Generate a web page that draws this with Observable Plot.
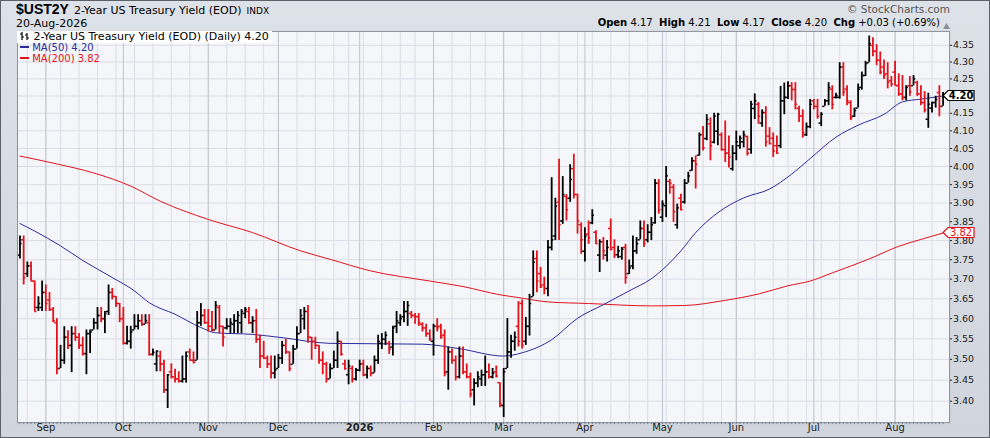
<!DOCTYPE html>
<html><head><meta charset="utf-8">
<script src="https://cdn.jsdelivr.net/npm/d3@7"></script>
<script src="https://cdn.jsdelivr.net/npm/@observablehq/plot@0.6"></script>
<style>
html,body{margin:0;padding:0;background:#fff;}
#wrap{position:relative;width:990px;height:438px;overflow:hidden;box-sizing:border-box;border:1px solid #5c616a;
 background:linear-gradient(#dde1e8,#d0d5dd);font-family:"DejaVu Sans",Verdana,sans-serif;color:#000;}
#wrap svg.plot{position:absolute;left:-1px;top:-1px;}
.ov{position:absolute;white-space:nowrap;line-height:12px;height:12px;}
</style></head><body><div id="wrap"></div>
<script>
// ---- data ----
const firstDay = "2025-08-21", lastDay = "2026-08-20";
const holidays = ["2025-09-01","2025-11-27","2025-12-25","2026-01-01","2026-01-19","2026-02-16","2026-04-03","2026-05-25","2026-06-19","2026-07-03"];
const monthLabels = ["Sep","Oct","Nov","Dec","2026","Feb","Mar","Apr","May","Jun","Jul","Aug"];
const yTicks = [3.40,3.45,3.50,3.55,3.60,3.65,3.70,3.75,3.80,3.85,3.90,3.95,4.00,4.05,4.10,4.15,4.20,4.25,4.30,4.35];

const open = [3.762,3.802,3.714,3.734,3.695,3.628,3.628,3.666,3.647,3.623,3.590,3.478,3.498,3.554,3.534,3.563,3.554,3.534,3.514,3.563,
3.572,3.590,3.608,3.600,3.618,3.666,3.656,3.638,3.600,3.539,3.544,3.572,3.581,3.595,3.586,3.590,3.512,3.489,3.508,3.489,
3.427,3.470,3.458,3.453,3.448,3.453,3.518,3.498,3.498,3.590,3.608,3.590,3.581,3.572,3.628,3.581,3.577,3.581,3.586,3.595,
3.590,3.613,3.618,3.590,3.595,3.549,3.508,3.503,3.489,3.467,3.478,3.503,3.534,3.518,3.488,3.525,3.563,3.600,3.618,3.554,
3.544,3.534,3.498,3.489,3.453,3.478,3.498,3.544,3.489,3.463,3.478,3.453,3.474,3.489,3.463,3.478,3.467,3.498,3.539,3.549,
3.539,3.530,3.581,3.590,3.605,3.618,3.613,3.608,3.605,3.586,3.577,3.563,3.544,3.581,3.581,3.559,3.470,3.518,3.498,3.458,
3.508,3.470,3.458,3.427,3.443,3.453,3.463,3.470,3.458,3.470,3.444,3.390,3.478,3.518,3.544,3.581,3.638,3.544,3.581,3.655,
3.753,3.714,3.685,3.676,3.782,3.812,3.902,3.852,3.918,3.913,3.994,3.923,3.842,3.772,3.817,3.847,3.822,3.762,3.797,3.762,
3.832,3.782,3.763,3.758,3.782,3.714,3.734,3.773,3.802,3.832,3.802,3.822,3.847,3.954,3.862,3.893,3.959,3.943,3.842,3.913,
3.903,3.954,3.989,4.016,4.031,4.089,4.078,4.120,4.068,4.099,4.089,4.047,4.037,3.994,4.037,4.058,4.069,4.084,4.048,4.164,
4.176,4.122,4.152,4.085,4.079,4.058,4.058,4.186,4.196,4.230,4.219,4.164,4.142,4.089,4.112,4.186,4.170,4.122,4.170,4.186,
4.220,4.196,4.196,4.285,4.220,4.181,4.142,4.165,4.225,4.260,4.298,4.350,4.332,4.305,4.285,4.265,4.245,4.270,4.230,4.206,
4.196,4.230,4.230,4.240,4.206,4.181,4.133,4.165,4.181,4.210,4.170];
const high = [3.812,3.812,3.744,3.744,3.695,3.655,3.695,3.685,3.666,3.628,3.600,3.534,3.580,3.570,3.580,3.580,3.563,3.554,3.572,3.572,
3.600,3.628,3.628,3.618,3.685,3.676,3.656,3.638,3.628,3.581,3.581,3.610,3.610,3.610,3.610,3.610,3.525,3.520,3.520,3.498,
3.463,3.489,3.476,3.470,3.508,3.518,3.525,3.518,3.618,3.638,3.623,3.623,3.618,3.643,3.633,3.581,3.600,3.600,3.610,3.618,
3.623,3.628,3.628,3.605,3.623,3.559,3.544,3.508,3.508,3.508,3.512,3.544,3.549,3.518,3.534,3.580,3.623,3.628,3.633,3.554,
3.554,3.534,3.518,3.493,3.489,3.520,3.567,3.544,3.498,3.498,3.484,3.478,3.498,3.498,3.484,3.484,3.508,3.559,3.563,3.567,
3.544,3.581,3.618,3.610,3.643,3.643,3.618,3.613,3.613,3.590,3.586,3.572,3.586,3.600,3.586,3.572,3.530,3.525,3.508,3.530,
3.530,3.489,3.467,3.453,3.470,3.474,3.508,3.489,3.478,3.484,3.444,3.478,3.600,3.559,3.567,3.643,3.647,3.603,3.661,3.773,
3.773,3.730,3.705,3.800,3.969,3.913,4.020,3.972,3.923,4.005,4.034,3.924,3.847,3.834,3.852,3.882,3.826,3.802,3.808,3.800,
3.857,3.802,3.785,3.782,3.790,3.749,3.812,3.808,3.852,3.852,3.842,3.861,3.964,3.964,3.906,4.000,3.964,3.950,3.897,3.924,
3.964,3.984,4.024,4.029,4.094,4.112,4.146,4.137,4.150,4.150,4.094,4.128,4.085,4.058,4.099,4.085,4.099,4.085,4.185,4.206,
4.181,4.160,4.169,4.109,4.094,4.085,4.228,4.238,4.242,4.239,4.239,4.170,4.160,4.122,4.190,4.190,4.190,4.152,4.190,4.239,
4.230,4.208,4.298,4.298,4.230,4.186,4.165,4.235,4.270,4.302,4.378,4.373,4.352,4.330,4.306,4.298,4.257,4.302,4.265,4.260,
4.230,4.257,4.260,4.243,4.230,4.213,4.208,4.182,4.199,4.230,4.210];
const low = [3.752,3.685,3.704,3.695,3.618,3.618,3.618,3.618,3.618,3.590,3.463,3.478,3.488,3.524,3.468,3.544,3.524,3.508,3.463,3.514,
3.572,3.572,3.590,3.563,3.608,3.647,3.628,3.590,3.535,3.535,3.525,3.572,3.572,3.581,3.586,3.508,3.508,3.470,3.470,3.418,
3.383,3.453,3.443,3.443,3.443,3.443,3.498,3.489,3.498,3.581,3.586,3.567,3.567,3.572,3.563,3.530,3.572,3.563,3.563,3.563,
3.563,3.600,3.586,3.563,3.539,3.478,3.500,3.478,3.453,3.453,3.478,3.488,3.512,3.470,3.488,3.525,3.563,3.572,3.539,3.498,
3.524,3.488,3.463,3.443,3.453,3.478,3.478,3.508,3.474,3.439,3.443,3.448,3.470,3.458,3.453,3.458,3.467,3.488,3.524,3.534,
3.512,3.508,3.563,3.581,3.590,3.581,3.600,3.586,3.581,3.567,3.554,3.544,3.508,3.567,3.549,3.458,3.426,3.488,3.448,3.453,
3.463,3.453,3.408,3.389,3.432,3.435,3.435,3.453,3.453,3.455,3.385,3.362,3.478,3.503,3.520,3.530,3.525,3.534,3.557,3.655,
3.665,3.676,3.660,3.655,3.773,3.800,3.800,3.843,3.852,3.902,3.911,3.817,3.764,3.744,3.790,3.842,3.790,3.717,3.749,3.744,
3.773,3.753,3.753,3.749,3.687,3.712,3.724,3.764,3.802,3.782,3.794,3.800,3.843,3.870,3.848,3.861,3.924,3.848,3.830,3.879,
3.897,3.954,3.987,3.938,4.029,4.043,4.072,4.016,4.063,4.058,4.043,4.011,3.996,3.987,4.016,4.048,4.052,4.029,4.034,4.132,
4.119,4.110,4.054,4.060,4.025,4.034,4.050,4.146,4.190,4.186,4.160,4.124,4.079,4.084,4.106,4.160,4.133,4.112,4.170,4.172,
4.160,4.191,4.191,4.199,4.172,4.129,4.138,4.165,4.217,4.257,4.298,4.316,4.289,4.262,4.248,4.221,4.226,4.230,4.199,4.186,
4.186,4.199,4.230,4.199,4.172,4.151,4.107,4.151,4.165,4.140,4.170];
const close = [3.792,3.704,3.734,3.695,3.618,3.638,3.666,3.638,3.623,3.595,3.478,3.498,3.554,3.534,3.563,3.554,3.534,3.514,3.563,3.567,
3.590,3.608,3.600,3.613,3.666,3.656,3.638,3.600,3.539,3.544,3.567,3.581,3.595,3.586,3.595,3.512,3.517,3.520,3.489,3.427,
3.463,3.458,3.453,3.448,3.453,3.508,3.498,3.493,3.590,3.608,3.590,3.581,3.572,3.633,3.581,3.554,3.581,3.590,3.595,3.608,
3.618,3.623,3.590,3.595,3.549,3.508,3.503,3.489,3.467,3.474,3.503,3.534,3.518,3.478,3.525,3.563,3.608,3.618,3.554,3.544,
3.534,3.498,3.489,3.453,3.478,3.498,3.544,3.512,3.478,3.484,3.453,3.474,3.489,3.463,3.478,3.467,3.498,3.544,3.549,3.559,
3.525,3.577,3.595,3.600,3.618,3.633,3.608,3.605,3.590,3.577,3.563,3.549,3.581,3.577,3.554,3.467,3.518,3.498,3.458,3.508,
3.470,3.458,3.417,3.443,3.458,3.463,3.470,3.458,3.467,3.460,3.394,3.470,3.518,3.544,3.554,3.544,3.534,3.581,3.638,3.744,
3.695,3.680,3.676,3.782,3.802,3.892,3.842,3.923,3.882,3.964,3.923,3.852,3.802,3.812,3.807,3.867,3.792,3.797,3.773,3.782,
3.777,3.763,3.773,3.777,3.704,3.729,3.773,3.792,3.832,3.792,3.822,3.842,3.954,3.882,3.898,3.974,3.954,3.877,3.887,3.882,
3.954,3.974,4.016,4.006,4.089,4.052,4.132,4.058,4.142,4.147,4.047,4.037,4.026,4.037,4.069,4.079,4.089,4.037,4.176,4.186,
4.142,4.152,4.069,4.064,4.043,4.037,4.186,4.196,4.230,4.219,4.176,4.142,4.095,4.112,4.176,4.170,4.142,4.147,4.186,4.225,
4.176,4.201,4.285,4.212,4.186,4.137,4.158,4.220,4.260,4.295,4.355,4.332,4.305,4.270,4.260,4.240,4.235,4.232,4.206,4.196,
4.225,4.212,4.250,4.206,4.181,4.160,4.176,4.181,4.190,4.170,4.200];

const ma50Idx = [0,4,11,17,25,31,35,42,49,53,63,71,84,109,119,131,136,144,151,158,165,171,179,183,189,196,203,209,214,221,227,234,239,244,250];
const ma50Val = [3.845,3.825,3.786,3.748,3.704,3.670,3.640,3.611,3.578,3.565,3.561,3.553,3.539,3.537,3.526,3.508,3.516,3.548,3.601,3.635,3.670,3.701,3.773,3.821,3.874,3.914,3.938,3.979,4.022,4.082,4.116,4.147,4.183,4.191,4.200];
const ma200Idx = [0,10,20,30,38,51,63,76,84,95,111,120,130,135,143,154,171,180,191,200,208,214,220,230,238,244,250];
const ma200Val = [4.029,4.007,3.982,3.946,3.905,3.856,3.821,3.773,3.751,3.721,3.695,3.681,3.660,3.653,3.642,3.638,3.632,3.633,3.646,3.662,3.683,3.695,3.716,3.752,3.785,3.803,3.820];

// ---- trading calendar (categories) ----
const dates = [];
for (let t = Date.parse(firstDay+"T00:00:00Z"); t <= Date.parse(lastDay+"T00:00:00Z"); t += 864e5) {
  const d = new Date(t), wd = d.getUTCDay(), s = d.toISOString().slice(0,10);
  if (wd === 0 || wd === 6 || holidays.includes(s)) continue;
  dates.push(d);
}
const n = dates.length;
const bars = dates.map((d, i) => ({i, o: open[i], h: high[i], l: low[i], c: close[i],
  col: (i === 0 || close[i] >= close[i-1]) ? "#000000" : "#e3121b"}));
const monthIdx = [], weekIdx = [];
dates.forEach((d, i) => {
  if (i > 0 && d.getUTCMonth() !== dates[i-1].getUTCMonth()) monthIdx.push(i);
  if (i > 0 && d.getUTCDay() < dates[i-1].getUTCDay()) weekIdx.push(i);
});
const monthTicks = monthIdx.map((i, k) => ({i, label: monthLabels[k], bold: monthLabels[k] === "2026"}));
const ma50 = ma50Idx.map((i, k) => ({i, v: ma50Val[k]}));
const ma200 = ma200Idx.map((i, k) => ({i, v: ma200Val[k]}));
const allIdx = d3.range(n);
const lastClose = close[n-1], lastMa200 = ma200Val[ma200Val.length-1];
// the last close is shown in its own tag, so its plain label is left out
const labelTicks = yTicks.filter(v => Math.abs(v - lastClose) > 1e-9);

const red = "#e3121b", blue = "#2b2b9e";
const chart = Plot.plot({
  width: 990, height: 438,
  marginLeft: 17, marginRight: 39, marginTop: 31, marginBottom: 15,
  x: {type: "linear", domain: [-0.676, 251.76], axis: null, label: null},
  y: {type: "log", domain: [3.350, 4.392], axis: null, label: null},
  style: {background: "transparent", fontFamily: "DejaVu Sans, sans-serif", fontSize: "10px", overflow: "visible"},
  marks: [
    Plot.frame({fill: "#f4f6fa", stroke: null}),
    Plot.ruleY(yTicks, {stroke: "#dadde5", strokeWidth: 1}),
    Plot.ruleX(weekIdx, {stroke: "#dadde5", strokeWidth: 1}),
    Plot.ruleX(monthIdx, {stroke: "#bfc3cb", strokeWidth: 1}),
    Plot.line(ma200, {x: "i", y: "v", stroke: red, strokeWidth: 1, curve: "monotone-x"}),
    Plot.line(ma50, {x: "i", y: "v", stroke: blue, strokeWidth: 1, curve: "monotone-x"}),
    Plot.ruleX(bars, {x: "i", y1: "l", y2: "h", stroke: "col", strokeWidth: 1.8}),
    Plot.ruleY(bars, {y: "o", x1: d => d.i - 0.6, x2: "i", stroke: "col", strokeWidth: 1.5}),
    Plot.ruleY(bars, {y: "c", x1: "i", x2: d => d.i + 0.6, stroke: "col", strokeWidth: 1.5}),
    Plot.frame({stroke: "#8b9099"}),
    Plot.axisY({anchor: "right", ticks: labelTicks, tickFormat: d => d.toFixed(2), tickSize: 2, tickPadding: 1.5,
      fontSize: 9.5, color: "#222", label: null}),
    Plot.axisX({ticks: allIdx, tickSize: 2, tickFormat: () => "", stroke: "#6a6f78", strokeWidth: 0.8, label: null}),
    Plot.text(monthTicks.filter(d => !d.bold), {x: "i", text: "label", frameAnchor: "bottom", dy: 8, fontSize: 10, fill: "#222"}),
    Plot.text(monthTicks.filter(d => d.bold), {x: "i", text: "label", frameAnchor: "bottom", dy: 8, fontSize: 10, fontWeight: "bold", fill: "#222"})
  ]
});
chart.classList.add("plot");
const wrap = document.getElementById("wrap");
wrap.appendChild(chart);

// price label tags on the right axis
const sy = chart.scale("y");
const svg = d3.select(chart);
function tag(v, text, stroke, fill, weight) {
  const cy = sy.apply(v);
  const g = svg.append("g");
  g.append("path").attr("d", `M945,${cy} L950,${cy-5} L976,${cy-5} L976,${cy+5} L950,${cy+5} Z`)
    .attr("fill", "#fff").attr("stroke", stroke).attr("stroke-width", 1.2);
  g.append("text").attr("x", 963).attr("y", cy).attr("dy", "0.35em").attr("text-anchor", "middle")
    .attr("font-size", 10).attr("font-weight", weight).attr("fill", fill)
    .attr("font-family", "DejaVu Sans, sans-serif").text(text);
}
tag(lastClose, lastClose.toFixed(2), "#000", "#000", "bold");
tag(lastMa200, lastMa200.toFixed(2), red, red, "normal");

// header & legend overlays
function ov(html, left, top, style) {
  const el = document.createElement("div");
  el.className = "ov"; el.innerHTML = html;
  el.style.left = left + "px"; el.style.top = top + "px";
  if (style) el.style.cssText += style;
  wrap.appendChild(el); return el;
}
ov('<b style="font-size:14px;font-family:\'Liberation Sans\',Arial,sans-serif">$UST2Y</b> <span style="font-size:11px">2-Year US Treasury Yield (EOD)</span> <span style="font-size:9px">INDX</span>', 15, 1, 'line-height:14px;height:14px;');
ov('20-Aug-2026', 15, 17, 'font-size:11px;');
const r = ov('<span style="color:#555">&copy; StockCharts.com</span>', 0, 2, 'font-size:10.5px;');
r.style.left = ""; r.style.right = "39px";
const q = ov('<b>Open</b> 4.17&nbsp; <b>High</b> 4.21&nbsp; <b>Low</b> 4.17&nbsp; <b>Close</b> 4.20&nbsp; <b>Chg</b> +0.03 (+0.69%)', 0, 16, 'font-size:10px;');
q.style.left = ""; q.style.right = "49px";
ov('<svg width="7" height="6"><path d="M0,6 L3.5,0 L7,6 Z" fill="#8a8f98"/></svg>', 942, 17);
ov('<svg width="10" height="10" style="vertical-align:-1px"><path d="M2,1 V9 M0,3 H2 M2,6 H4 M7,2 V9 M5,4 H7 M7,7 H9" stroke="#000" stroke-width="1.2" fill="none"/></svg> 2-Year US Treasury Yield (EOD) (Daily) 4.20',
   16, 30, 'font-size:11px;background:#fff;padding:0 3px 0 3px;height:12px;');
ov('<span style="display:inline-block;width:9px;height:2px;background:' + blue + ';vertical-align:3px"></span> MA(50) 4.20', 19, 41, 'font-size:10px;color:' + blue + ';');
ov('<span style="display:inline-block;width:9px;height:2px;background:' + red + ';vertical-align:3px"></span> MA(200) 3.82', 19, 52, 'font-size:10px;color:' + red + ';');
</script>
</body></html>
